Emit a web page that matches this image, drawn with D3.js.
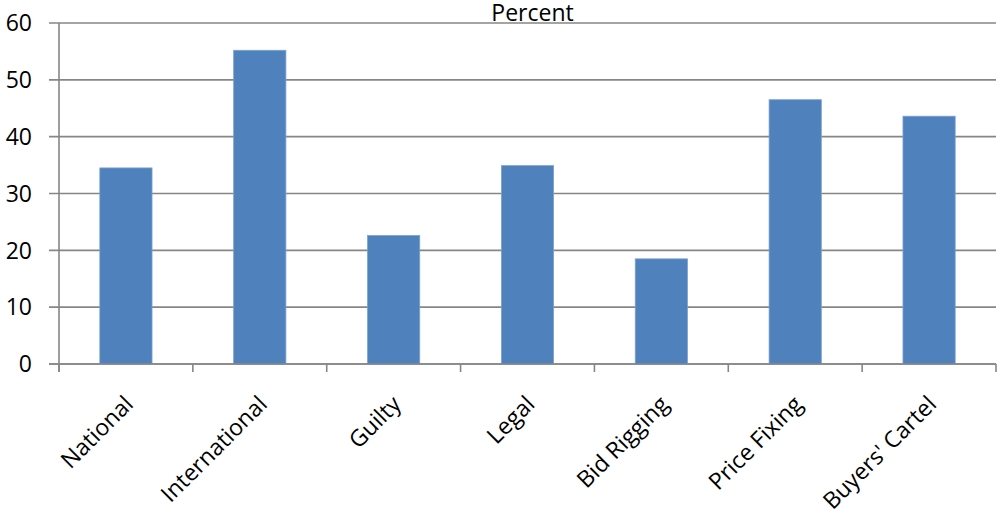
<!DOCTYPE html>
<html>
<head>
<meta charset="utf-8">
<script src="https://cdn.jsdelivr.net/npm/d3@7"></script>
<style>
  html, body { margin: 0; padding: 0; background: #fff; }
  svg text { font-family: "Open Sans", "Noto Sans", sans-serif; fill: #000; }
</style>
</head>
<body>
<svg id="chart" width="997" height="516"></svg>
<script>
// Share of cases by category (percent)
const categories = ["National", "International", "Guilty", "Legal", "Bid Rigging", "Price Fixing", "Buyers' Cartel"];
const percentValues = [34.5, 55.2, 22.6, 34.9, 18.5, 46.5, 43.6];
const yTicks = [0, 10, 20, 30, 40, 50, 60];
const chartTitle = "Percent";

const svg = d3.select("#chart");
const margin = { left: 59, right: 1, top: 23, bottom: 152 };
const W = 997, H = 516;
const x0 = margin.left, x1 = W - margin.right;
const y0 = H - margin.bottom, y1 = margin.top;

const x = d3.scaleBand().domain(categories).range([x0, x1]).paddingInner(0.61).paddingOuter(0.305);
const y = d3.scaleLinear().domain([0, 60]).range([y0, y1]);

const gridColor = "#868686";
const fontSize = 23;

// horizontal gridlines with left tick stubs
svg.append("g").selectAll("line").data(yTicks).join("line")
  .attr("x1", x0 - 10).attr("x2", x1)
  .attr("y1", d => y(d)).attr("y2", d => y(d))
  .attr("stroke", gridColor).attr("stroke-width", 1.6);

// y axis line
svg.append("line")
  .attr("x1", x0).attr("x2", x0).attr("y1", y1).attr("y2", y0 + 8)
  .attr("stroke", gridColor).attr("stroke-width", 1.6);

// y tick labels
svg.append("g").selectAll("text").data(yTicks).join("text")
  .attr("x", x0 - 27).attr("y", d => y(d))
  .attr("dy", "0.36em")
  .attr("text-anchor", "end")
  .attr("font-size", fontSize)
  .text(d => d);

// category boundary ticks on x axis
const boundaries = d3.range(categories.length + 1).map(i => x0 + i * (x1 - x0) / categories.length);
svg.append("g").selectAll("line").data(boundaries).join("line")
  .attr("x1", d => d).attr("x2", d => d)
  .attr("y1", y0).attr("y2", y0 + 8)
  .attr("stroke", gridColor).attr("stroke-width", 1.6);

// bars
svg.append("g").selectAll("rect").data(percentValues).join("rect")
  .attr("x", (d, i) => x(categories[i]))
  .attr("width", x.bandwidth())
  .attr("y", d => y(d))
  .attr("height", d => y(0) - y(d))
  .attr("fill", "#4f81bd")
  .attr("stroke", "#7aa0d0")
  .attr("stroke-width", 0.8);

// redraw baseline over bars
svg.append("line")
  .attr("x1", x0 - 10).attr("x2", x1).attr("y1", y0).attr("y2", y0)
  .attr("stroke", gridColor).attr("stroke-width", 1.6);

// rotated category labels
svg.append("g").selectAll("text").data(categories).join("text")
  .attr("transform", d => `translate(${x(d) + x.bandwidth() / 2 + 3},${y0 + 36}) rotate(-45)`)
  .attr("text-anchor", "end")
  .attr("dy", "0.35em")
  .attr("font-size", fontSize)
  .text(d => d);

// title
svg.append("text")
  .attr("x", (x0 + x1) / 2 + 5).attr("y", y1 - 2)
  .attr("text-anchor", "middle")
  .attr("font-size", fontSize)
  .text(chartTitle);
</script>
</body>
</html>
